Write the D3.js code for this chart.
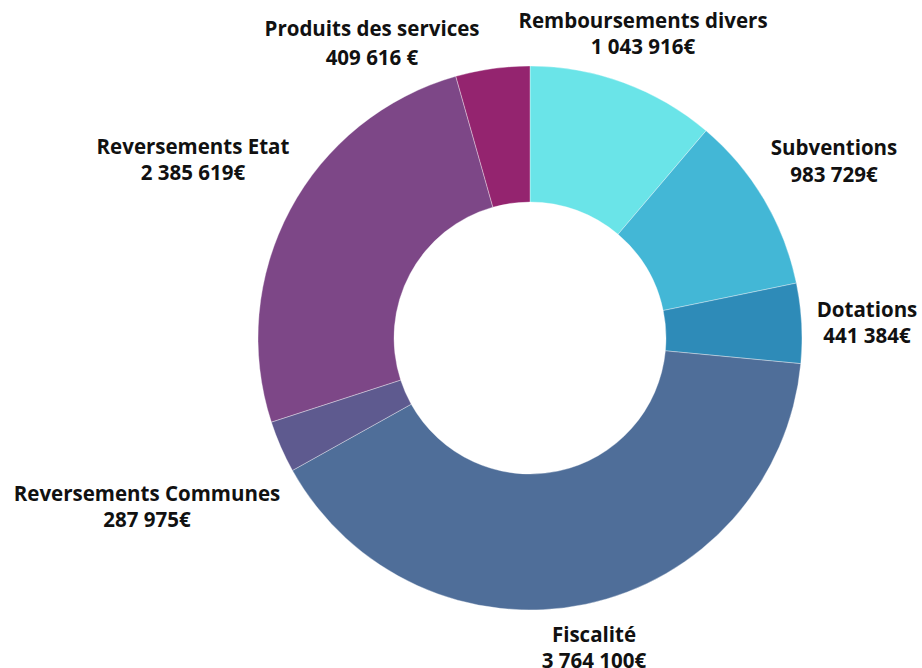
<!DOCTYPE html>
<html><head><meta charset="utf-8">
<script src="https://cdn.jsdelivr.net/npm/d3@7"></script>
<style>
html,body{margin:0;padding:0;background:#fff;}
svg text{font-family:"Open Sans","Noto Sans",sans-serif;font-weight:700;fill:#111;}
</style></head>
<body>
<svg id="chart" width="922" height="668"></svg>
<script>
const categories = ["Remboursements divers","Subventions","Dotations","Fiscalité","Reversements Communes","Reversements Etat","Produits des services"];
const values = [1043916, 983729, 441384, 3764100, 287975, 2385619, 409616];
const valueLabels = ["1 043 916€","983 729€","441 384€","3 764 100€","287 975€","2 385 619€","409 616 €"];
const colors = ["#6ae4e8","#43b7d6","#2e8bb8","#4f6e99","#5e5a8f","#7d4787","#94246f"];
// label layout (center x, first baseline y, line gap)
const labelLayout = [[643,28,26],[834,155,27],[867,317,26],[594,642,26],[147,501,26],[193,154,26],[372,36,29]];

const svg = d3.select("#chart");
const cx = 530, cy = 338, outerR = 272, innerR = 136;
const g = svg.append("g").attr("transform",`translate(${cx},${cy})`);
const pie = d3.pie().sort(null).value(d=>d);
const arcs = pie(values);
const arc = d3.arc().innerRadius(innerR).outerRadius(outerR);
g.selectAll("path").data(arcs).join("path")
  .attr("d",arc)
  .attr("fill",(d,i)=>colors[i])
  .attr("stroke","rgba(255,255,255,0.35)")
  .attr("stroke-width",1);

const lab = svg.append("g");
categories.forEach((c,i)=>{
  const [x,y,gap] = labelLayout[i];
  const t = lab.append("text").attr("text-anchor","middle").attr("font-size",20.5);
  t.append("tspan").attr("x",x).attr("y",y).text(c);
  t.append("tspan").attr("x",x).attr("y",y+gap).text(valueLabels[i]);
});
</script>
</body></html>
